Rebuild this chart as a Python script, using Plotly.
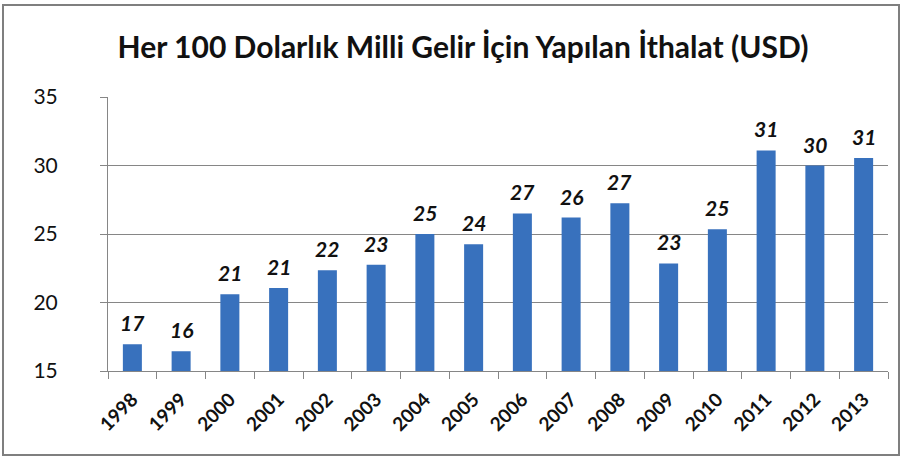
import plotly.graph_objects as go

years = [str(y) for y in range(1998, 2014)]
values = [16.95, 16.45, 20.6, 21.05, 22.35, 22.75, 25.0, 24.25,
          26.5, 26.2, 27.25, 22.85, 25.35, 31.1, 30.0, 30.55]
labels = ["17", "16", "21", "21", "22", "23", "25", "24",
          "27", "26", "27", "23", "25", "31", "30", "31"]

fig = go.Figure()
fig.add_trace(go.Bar(
    x=years,
    y=values,
    marker=dict(color="#3871bd", line=dict(width=0)),
))

# value labels, a bit above each bar (x as category index)
annotations = []
for i, (val, lab) in enumerate(zip(values, labels)):
    annotations.append(dict(
        x=i, y=val, xref="x", yref="y",
        text="<b><i>" + lab + "</i></b>",
        showarrow=False, yanchor="bottom", yshift=7,
        font=dict(family="Lato", size=21, color="#111111"),
    ))

# plot area in pixels: x 108..888, y 97..371
L, R, T, B = 108, 15, 97, 90
pw = 903 - L - R
ph = 461 - T - B

def px(x):
    return (x - L) / pw

def py(y):
    return (461 - B - y) / ph

fig.update_layout(
    width=903,
    height=461,
    margin=dict(l=L, r=R, t=T, b=B),
    paper_bgcolor="white",
    plot_bgcolor="white",
    bargap=0.61,
    showlegend=False,
    annotations=annotations,
    title=dict(
        text="<b>Her 100 Dolarlık Milli Gelir İçin Yapılan İthalat (USD)</b>",
        x=463 / 903, xanchor="center",
        y=1 - 47 / 461, yanchor="middle",
        font=dict(family="Lato", size=30, color="#111111"),
    ),
    xaxis=dict(
        type="category",
        range=[-0.5, len(years) - 0.5],
        tickangle=-45,
        ticks="outside",
        tickson="boundaries",
        ticklen=7,
        tickcolor="#868686",
        showline=True,
        linecolor="#868686",
        showgrid=False,
        ticklabelstandoff=9,
        tickfont=dict(family="Lato", size=19, color="#111111", weight="bold"),
    ),
    yaxis=dict(
        range=[15, 35],
        dtick=5,
        ticks="outside",
        ticklen=7,
        tickcolor="#868686",
        showline=True,
        linecolor="#868686",
        showgrid=True,
        gridcolor="#868686",
        gridwidth=1,
        zeroline=False,
        ticklabelstandoff=38,
        tickfont=dict(family="Lato", size=21, color="#111111"),
    ),
    shapes=[dict(
        type="rect", xref="paper", yref="paper",
        x0=px(3), x1=px(899), y0=py(455), y1=py(5),
        line=dict(color="#7f7f7f", width=2),
        fillcolor="rgba(0,0,0,0)",
        layer="above",
    )],
)

fig.write_html("out.html", config={"displayModeBar": False},
               post_script="document.body.style.margin='0';")
